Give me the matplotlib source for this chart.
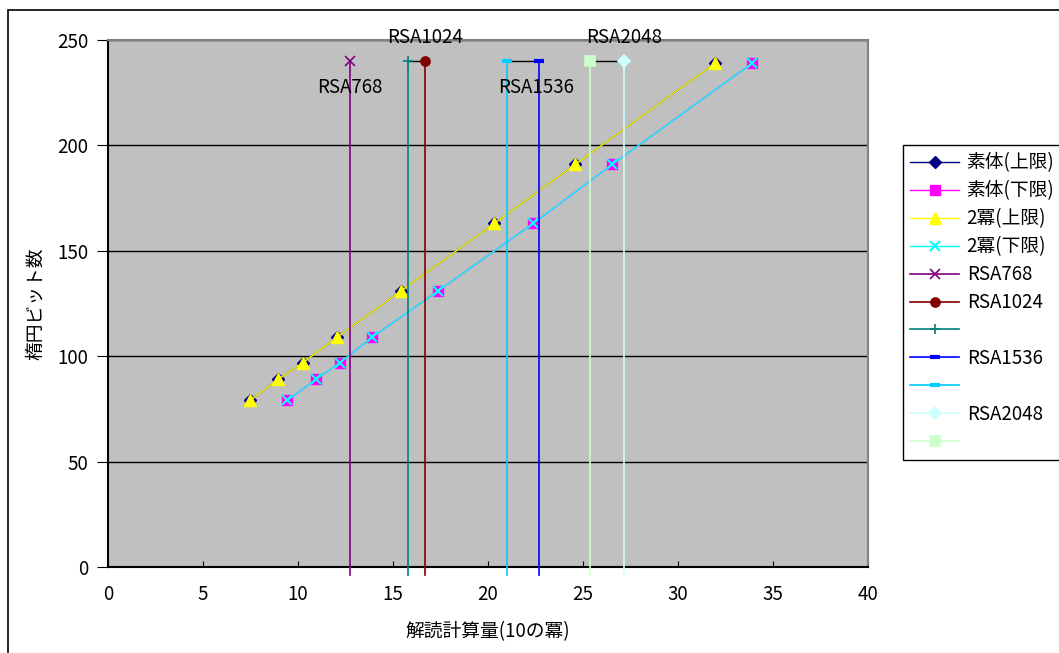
import matplotlib
matplotlib.use("Agg")
from matplotlib import pyplot as plt
from matplotlib.patches import Rectangle

plt.rcParams["font.family"] = ["Noto Sans CJK JP", "DejaVu Sans"]

# 楕円曲線のビット数
bits = [79, 89, 97, 109, 131, 163, 191, 239]

# 解読計算量 (10の冪)
prime_upper = [7.48, 8.95, 10.27, 12.06, 15.43, 20.33, 24.59, 31.96]
prime_lower = [9.43, 10.95, 12.22, 13.9, 17.38, 22.38, 26.54, 33.9]
pow2_upper = [7.48, 8.95, 10.27, 12.06, 15.43, 20.33, 24.59, 31.96]
pow2_lower = [9.43, 10.95, 12.22, 13.9, 17.38, 22.38, 26.54, 33.9]

# RSA の計算量 (縦線)
rsa_names = ["RSA768", "RSA1024", "", "RSA1536", "", "RSA2048", ""]
rsa_x = [12.74, 16.67, 15.77, 22.7, 21.0, 27.15, 25.36]
rsa_top = 240
rsa_colors = ["#800080", "#800000", "#008080", "#0000FF", "#00CCFF", "#CCFFFF", "#CCFFCC"]
rsa_markers = ["x", "o", "+", "_", "_", "D", "s"]

FS = 13.5

fig = plt.figure(figsize=(10.59, 6.53), dpi=100)
ax = fig.add_axes([0.1020, 0.1317, 0.7176, 0.8070])
ax.set_facecolor("#C0C0C0")

ax.plot(prime_upper, bits, color="#000080", lw=1, marker="D", ms=6,
        mec="#000080", label="素体(上限)")
ax.plot(prime_lower, bits, color="#FF00FF", lw=1, marker="s", ms=6.5,
        mec="#FF00FF", label="素体(下限)")
ax.plot(pow2_upper, bits, color="#FFFF00", lw=1, marker="^", ms=8,
        mec="#FFFF00", label="2冪(上限)")
ax.plot(pow2_lower, bits, color="#00FFFF", lw=1, marker="x", ms=6.5,
        mew=1.5, label="2冪(下限)")

# RSA: 上端で対になる点を黒線で結ぶ
for a, b in [(1, 2), (3, 4), (5, 6)]:
    ax.plot([rsa_x[a], rsa_x[b]], [rsa_top, rsa_top], color="black", lw=1, zorder=2)

for name, x, c, m in zip(rsa_names, rsa_x, rsa_colors, rsa_markers):
    ax.plot([x, x], [rsa_top, -4], color=c, lw=1.2, clip_on=False, zorder=3)
    mew = 1.2
    if m == "_":
        mew = 3
    ax.plot([x], [rsa_top], color=c, lw=1.2, marker=m, ms=6.5, mew=mew,
            mec=c, mfc=c, zorder=4, label=name if name else " ")

# データラベル
ax.annotate("RSA768", (rsa_x[0], rsa_top), xytext=(0, -19), textcoords="offset points",
            ha="center", va="center", fontsize=FS)
ax.annotate("RSA1024", (rsa_x[1], rsa_top), xytext=(0, 17), textcoords="offset points",
            ha="center", va="center", fontsize=FS, annotation_clip=False)
ax.annotate("RSA1536", (rsa_x[3], rsa_top), xytext=(-2, -19), textcoords="offset points",
            ha="center", va="center", fontsize=FS)
ax.annotate("RSA2048", (rsa_x[5], rsa_top), xytext=(0, 17), textcoords="offset points",
            ha="center", va="center", fontsize=FS, annotation_clip=False)

ax.set_xlim(0, 40)
ax.set_ylim(0, 250)
ax.set_xticks(range(0, 41, 5))
ax.set_yticks(range(0, 251, 50))
ax.yaxis.grid(True, color="black", lw=1)
ax.set_axisbelow(True)
ax.tick_params(axis="x", direction="in", length=4, pad=12, labelsize=FS)
ax.tick_params(axis="y", direction="out", length=8, pad=6, labelsize=FS)

for s in ["top", "right"]:
    ax.spines[s].set_color("#808080")
    ax.spines[s].set_linewidth(1.5)
for s in ["left", "bottom"]:
    ax.spines[s].set_color("black")
    ax.spines[s].set_linewidth(1.5)

ax.set_xlabel("解読計算量(10の冪)", fontsize=FS, labelpad=12)
ax.set_ylabel("楕円ビット数", fontsize=FS, labelpad=8)

leg = ax.legend(loc="upper left", bbox_to_anchor=(1.046, 0.801), fontsize=FS,
                frameon=True, fancybox=False, edgecolor="black", framealpha=1,
                handlelength=2.6, handletextpad=0.4, labelspacing=0.37,
                borderpad=0.4, borderaxespad=0)
leg.get_frame().set_linewidth(1)

# 図全体の枠
fig.patches.append(Rectangle((0.0075, -0.01), 1.1, 0.995, transform=fig.transFigure,
                             fill=False, edgecolor="black", lw=1.2))

fig.savefig("out.png", dpi=100)
